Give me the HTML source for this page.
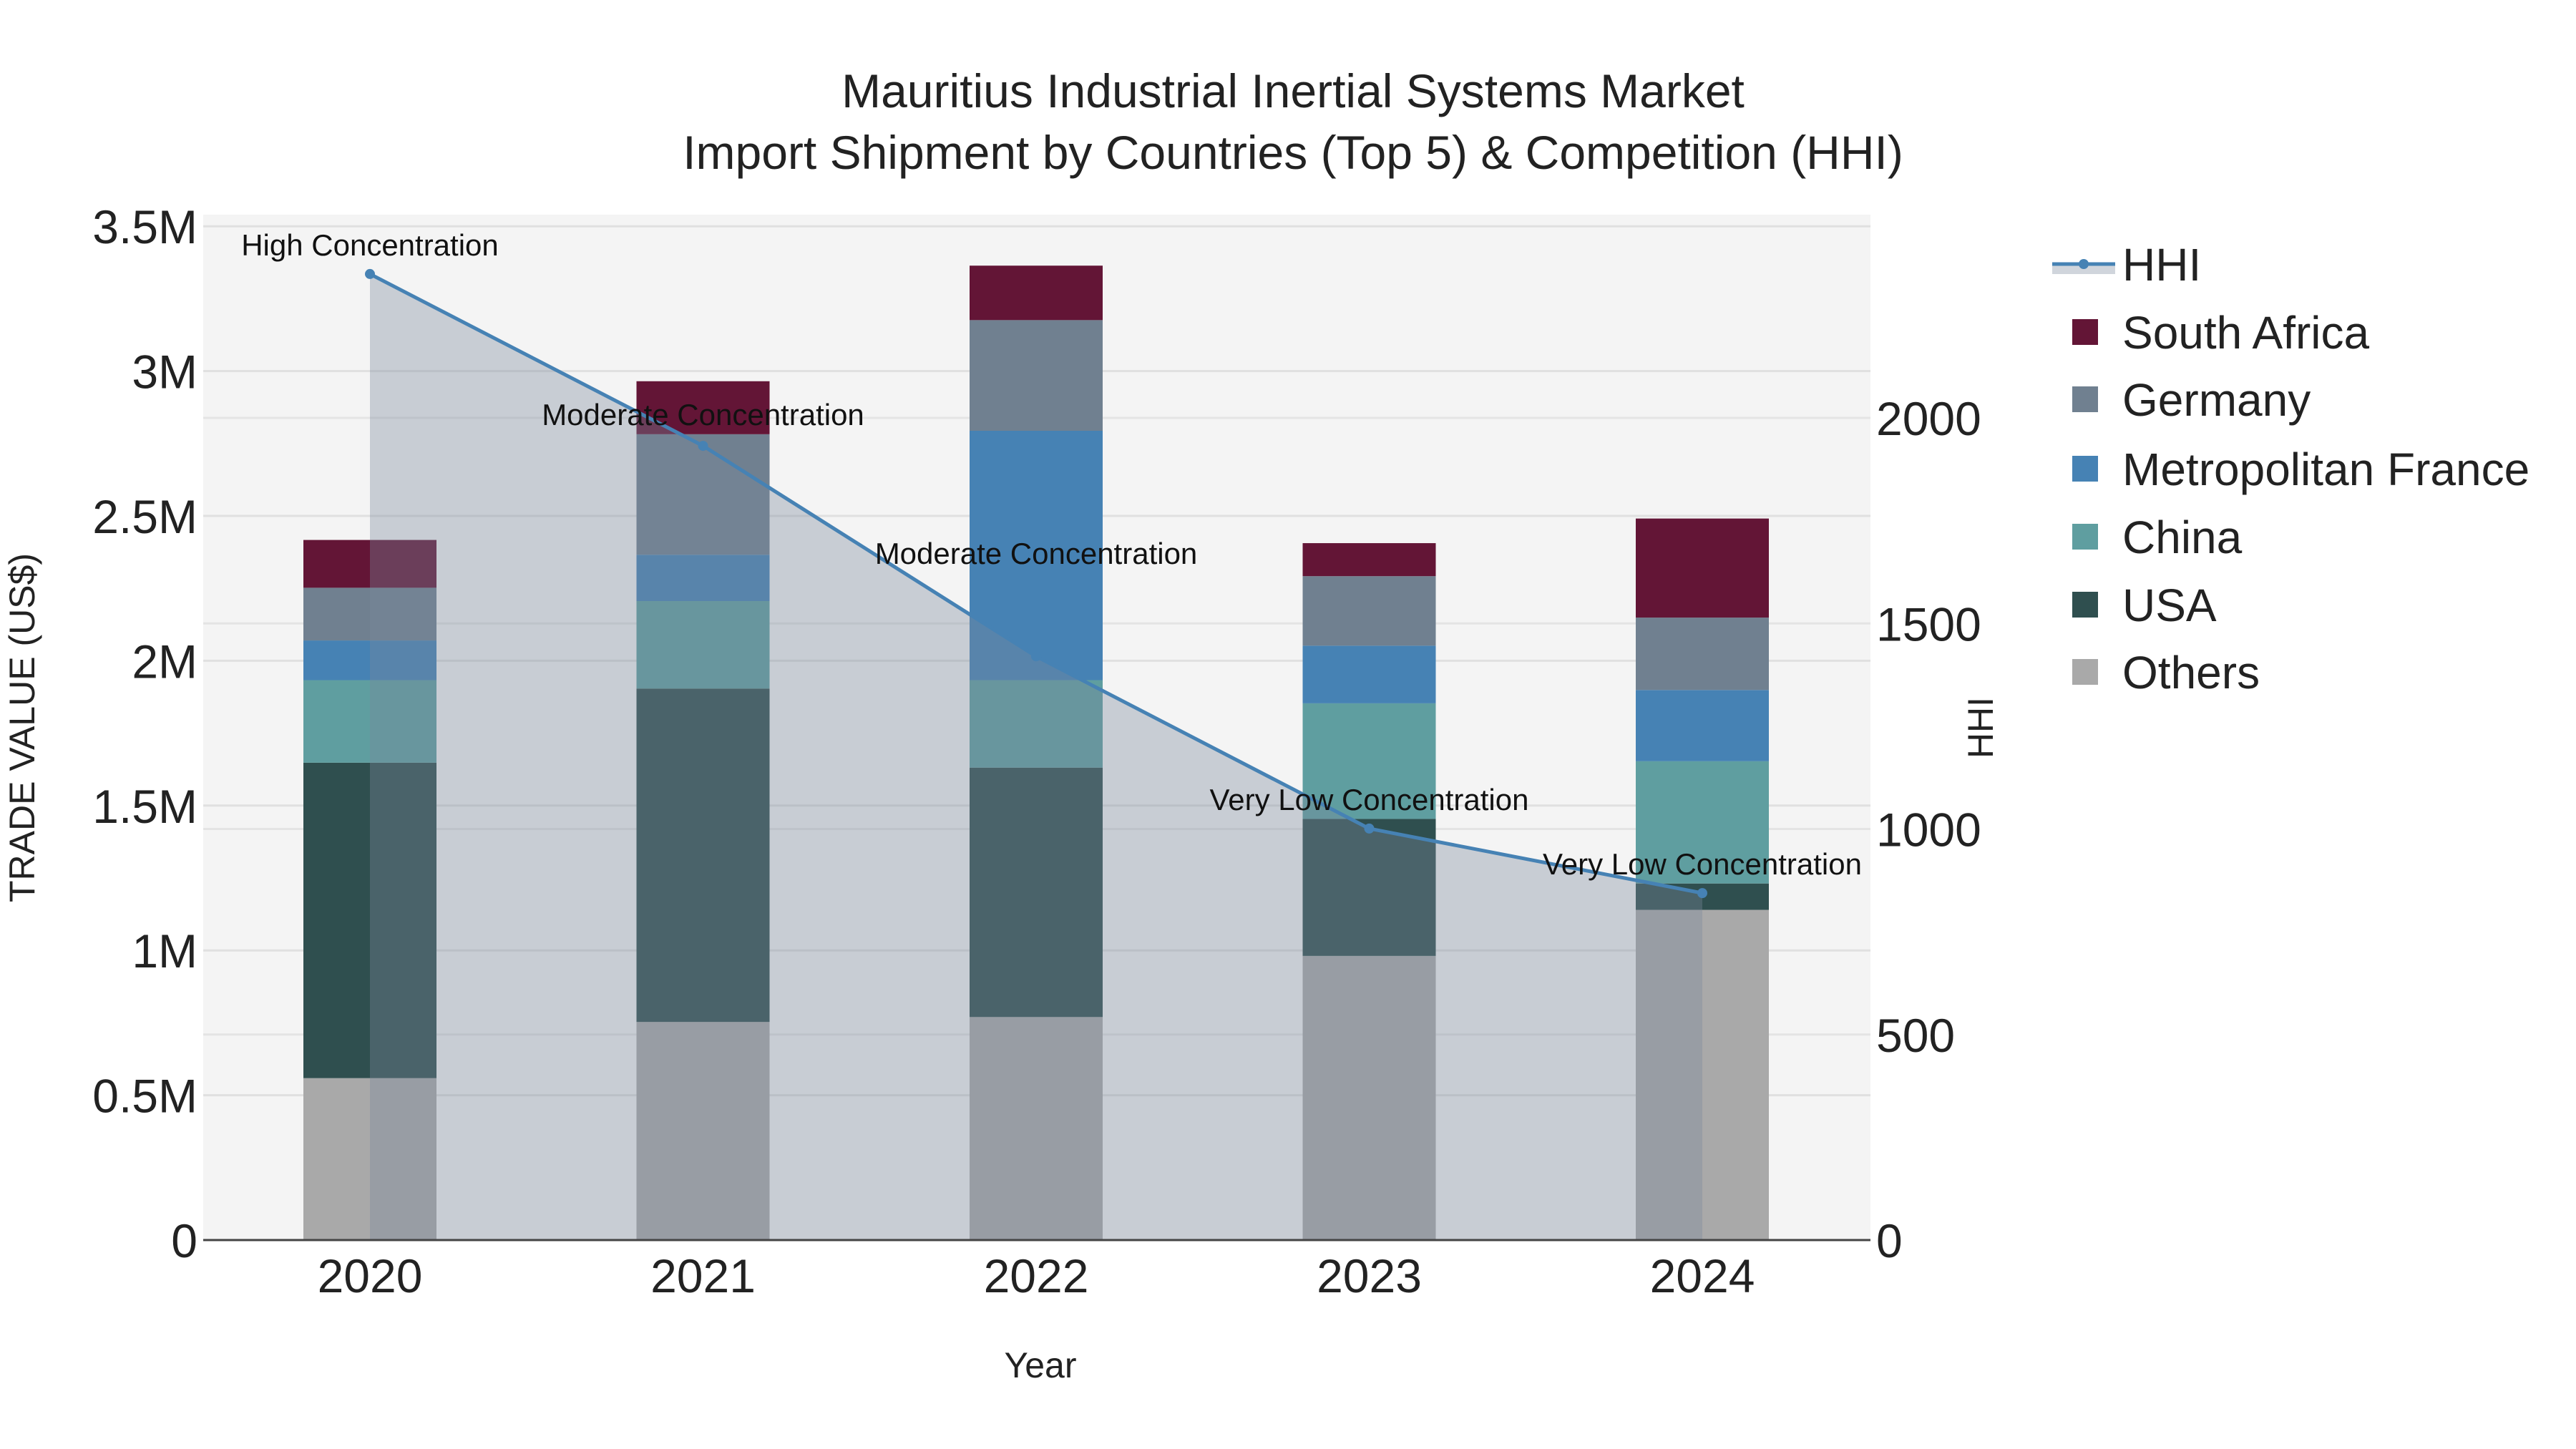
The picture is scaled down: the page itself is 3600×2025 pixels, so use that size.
<!DOCTYPE html>
<html><head><meta charset="utf-8"><style>
html,body{margin:0;padding:0;background:#fff;}
svg{display:block;font-family:"Liberation Sans",sans-serif;}
</style></head><body>
<svg id="chart" width="3600" height="2025" viewBox="0 0 3600 2025" xmlns="http://www.w3.org/2000/svg">
<rect x="284" y="300" width="2330" height="1433" fill="#f4f4f4"/>
<g id="grid"></g>
<g id="bars"></g>
<g id="hhi"></g>
<g id="axes"></g>
<text x="1807" y="150" text-anchor="middle" font-size="66" fill="#222">Mauritius Industrial Inertial Systems Market</text>
<text x="1807" y="236" text-anchor="middle" font-size="66" fill="#222">Import Shipment by Countries (Top 5) &amp; Competition (HHI)</text>
<text x="1454" y="1925" text-anchor="middle" font-size="50" fill="#222">Year</text>
<text transform="translate(48,1017) rotate(-90)" text-anchor="middle" font-size="50" fill="#222" font-family="Liberation Sans Narrow, Liberation Sans, sans-serif">TRADE VALUE (US$)</text>
<text transform="translate(2785,1017) rotate(-90)" text-anchor="middle" font-size="50" fill="#222">HHI</text>
<g id="legend"></g>
</svg>
<script>
const years = ["2020","2021","2022","2023","2024"];
const seriesNames = ["Others","USA","China","Metropolitan France","Germany","South Africa"];
const seriesColors = ["#a9a9a9","#2f4f4f","#5f9ea0","#4682b4","#708090","#631536"];
const others = [0.559,0.753,0.770,0.981,1.140];
const usa = [1.089,1.151,0.861,0.473,0.091];
const china = [0.285,0.302,0.302,0.399,0.422];
const france = [0.137,0.160,0.861,0.199,0.246];
const germany = [0.182,0.416,0.382,0.240,0.250];
const southAfrica = [0.165,0.183,0.188,0.114,0.342];
const hhi = [2350,1932,1420,1001,844];
const hhiLabels = ["High Concentration","Moderate Concentration","Moderate Concentration","Very Low Concentration","Very Low Concentration"];
const yTicks = [0,0.5,1,1.5,2,2.5,3,3.5];
const yTickLabels = ["0","0.5M","1M","1.5M","2M","2.5M","3M","3.5M"];
const y2Ticks = [0,500,1000,1500,2000];

const NS="http://www.w3.org/2000/svg";
const L=284,R=2614,T=300,B=1733;
const xScale=i=>517+i*465.5;
const yScale=v=>B-v*404.8;       // v in millions
const y2Scale=v=>B-v*0.5745;
const barW=186;
function mk(tag,attrs,parent){const e=document.createElementNS(NS,tag);for(const k in attrs)e.setAttribute(k,attrs[k]);parent.appendChild(e);return e;}
const grid=document.getElementById('grid'),bars=document.getElementById('bars'),hg=document.getElementById('hhi'),axes=document.getElementById('axes'),leg=document.getElementById('legend');

y2Ticks.forEach(t=>{if(t===0)return;const l=mk('line',{x1:L,x2:R,y1:y2Scale(t),y2:y2Scale(t),stroke:'#e4e4e4','stroke-width':3},grid);

});
yTicks.forEach((t,i)=>{
 if(t>0){const l=mk('line',{x1:L,x2:R,y1:yScale(t),y2:yScale(t),stroke:'#e0e0e0','stroke-width':3},grid);
 
 }
 const tx=mk('text',{x:276,y:yScale(t)+24,'text-anchor':'end','font-size':66,fill:'#222'},axes);tx.textContent=yTickLabels[i];
 
 
});
y2Ticks.forEach(t=>{const tx=mk('text',{x:2622,y:y2Scale(t)+24,'font-size':66,fill:'#222'},axes);tx.textContent=String(t);
 
 });
years.forEach((y,i)=>{const tx=mk('text',{x:xScale(i),y:1806,'text-anchor':'middle','font-size':66,fill:'#222'},axes);tx.textContent=y;
 
 });
const zl=mk('line',{x1:L,x2:R,y1:B,y2:B,stroke:'#444','stroke-width':3},axes);



const series=[others,usa,china,france,germany,southAfrica];
years.forEach((y,i)=>{let base=0;series.forEach((s,k)=>{
 const r=mk('rect',{x:xScale(i)-barW/2,y:yScale(base+s[i]),width:barW,height:yScale(base)-yScale(base+s[i]),fill:seriesColors[k]},bars);
 
 
 base+=s[i];});});

let d='M'+xScale(0)+','+B;hhi.forEach((v,i)=>{d+=' L'+xScale(i)+','+y2Scale(v);});d+=' L'+xScale(hhi.length-1)+','+B+' Z';
const area=mk('path',{d:d,fill:'rgb(122,136,155)','fill-opacity':0.36},hg);


const pts=hhi.map((v,i)=>xScale(i)+','+y2Scale(v)).join(' ');
const line=mk('polyline',{points:pts,fill:'none',stroke:'#4682b4','stroke-width':5},hg);


const annotShift=[41,44,144,41,41];
hhi.forEach((v,i)=>{const c=mk('circle',{cx:xScale(i),cy:y2Scale(v),r:7,fill:'#4682b4'},hg);
 
 
 const t=mk('text',{x:xScale(i),y:y2Scale(v)-annotShift[i]+15,'text-anchor':'middle','font-size':42,fill:'#111'},hg);t.textContent=hhiLabels[i];
 
 });

// legend
const lgY=[369,464,558,655,750,845,939];
const g0=mk('g',{},leg);


mk('rect',{x:2868,y:369,width:88,height:14,fill:'#d0d5dc'},g0);
mk('line',{x1:2868,x2:2956,y1:369,y2:369,stroke:'#4682b4','stroke-width':5},g0);
mk('circle',{cx:2912,cy:369,r:7,fill:'#4682b4'},g0);
const t0=mk('text',{x:2966,y:392,'font-size':64,fill:'#222'},g0);t0.textContent='HHI';
const legOrder=[5,4,3,2,1,0];
legOrder.forEach((k,j)=>{const g=mk('g',{},leg);
 
 
 const cy=lgY[j+1];
 mk('rect',{x:2896,y:cy-18,width:36,height:36,fill:seriesColors[k]},g);
 const t=mk('text',{x:2966,y:cy+23,'font-size':64,fill:'#222'},g);t.textContent=seriesNames[k];});
</script>
</body></html>
